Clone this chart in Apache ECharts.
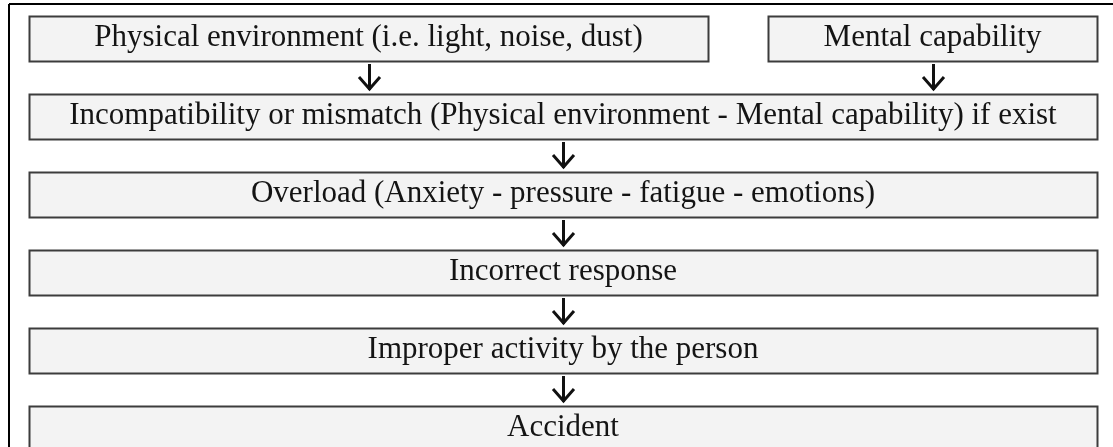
<!DOCTYPE html>
<html>
<head>
<meta charset="utf-8">
<script src="https://cdn.jsdelivr.net/npm/echarts@6/dist/echarts.min.js"></script>
<style>
  html, body { margin: 0; padding: 0; background: #ffffff; }
  #chart { width: 1113px; height: 447px; }
</style>
</head>
<body>
<div id="chart"></div>
<script>
// ---- data ----
const topRowLabels = ["Physical environment (i.e. light, noise, dust)", "Mental capability"];
const chainLabels = [
  "Incompatibility or mismatch (Physical environment - Mental capability) if exist",
  "Overload (Anxiety - pressure - fatigue - emotions)",
  "Incorrect response",
  "Improper activity by the person",
  "Accident"
];
const rowNames = ["inputs", "mismatch", "overload", "response", "activity", "accident"];

// ---- layout (not data) ----
const TOP_SPANS = [[0, 0.6358], [0.6919, 1]];
const BOX_H = 45;
const ROW_PITCH = 78;     // px between row centres
const FIRST_CENTRE = 38.5; // px from top of the canvas

const items = [];
topRowLabels.forEach(function (lab, i) {
  items.push({ name: lab, value: [TOP_SPANS[i][0], TOP_SPANS[i][1], 0] });
});
chainLabels.forEach(function (lab, i) {
  items.push({ name: lab, value: [0, 1, i + 1] });
});
const lastRow = rowNames.length - 1;

const chart = echarts.init(document.getElementById('chart'), null, { renderer: 'canvas' });

function renderItem(params, api) {
  const x0 = api.value(0), x1 = api.value(1), row = api.value(2);
  const p0 = api.coord([x0, row]);
  const p1 = api.coord([x1, row]);
  const left = Math.round(p0[0]), right = Math.round(p1[0]);
  const cy = p0[1];
  const top = Math.round(cy - BOX_H / 2);
  const bottom = top + BOX_H;
  const cx = (left + right) / 2;
  const children = [
    {
      type: 'rect',
      shape: { x: left + 0.5, y: top + 0.5, width: right - left, height: BOX_H },
      style: { fill: '#f3f3f3', stroke: '#3c3c3c', lineWidth: 2 }
    },
    {
      type: 'text',
      style: {
        text: items[params.dataIndex].name,
        x: cx, y: cy - 1,
        align: 'center', verticalAlign: 'middle',
        font: '31px "Liberation Serif", "Times New Roman", serif',
        fill: '#141414'
      }
    }
  ];
  if (row < lastRow) {
    const ax = Math.round(cx) + 0.5;
    children.push({
      type: 'line',
      shape: { x1: ax, y1: bottom + 3, x2: ax, y2: bottom + 29 },
      style: { stroke: '#111', lineWidth: 3 }
    });
    children.push({
      type: 'polyline',
      shape: { points: [[ax - 10.5, bottom + 16], [ax, bottom + 28], [ax + 10.5, bottom + 16]] },
      style: { stroke: '#111', lineWidth: 3, fill: null, lineJoin: 'miter' }
    });
  }
  return { type: 'group', children: children };
}

const yMin = -FIRST_CENTRE / ROW_PITCH;
const yMax = yMin + 447 / ROW_PITCH;

chart.setOption({
  animation: false,
  backgroundColor: '#ffffff',
  grid: { left: 29, right: 16, top: 0, bottom: 0 },
  xAxis: { type: 'value', min: 0, max: 1, show: false },
  yAxis: { type: 'value', inverse: true, min: yMin, max: yMax, show: false },
  graphic: [
    { type: 'line', shape: { x1: 9, y1: 4, x2: 1113, y2: 4 }, style: { stroke: '#000', lineWidth: 2 } },
    { type: 'line', shape: { x1: 9, y1: 4, x2: 9, y2: 447 }, style: { stroke: '#000', lineWidth: 2 } }
  ],
  series: [{
    type: 'custom',
    renderItem: renderItem,
    encode: { x: [0, 1], y: 2 },
    data: items,
    clip: false
  }]
});
</script>
</body>
</html>
